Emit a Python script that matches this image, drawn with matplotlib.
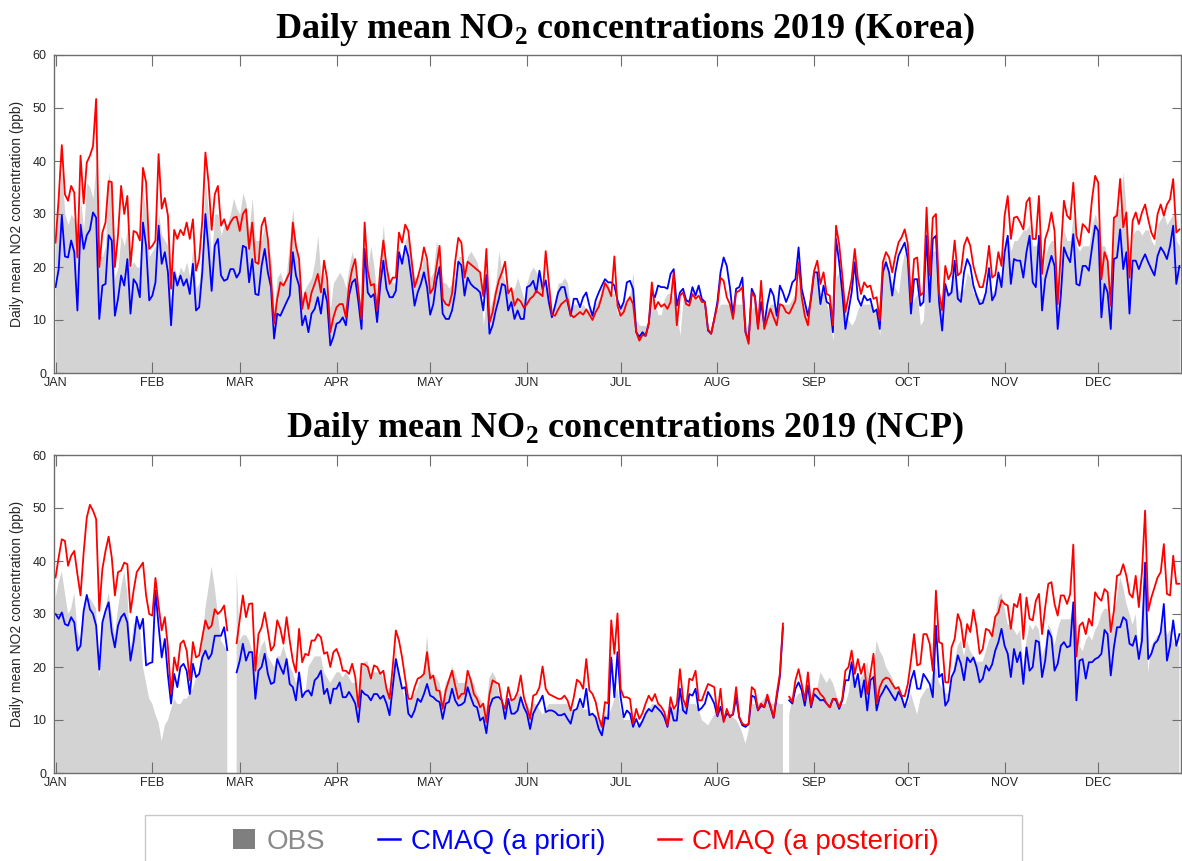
import numpy as np
import matplotlib
matplotlib.use("Agg")
import matplotlib.pyplot as plt
from matplotlib.patches import Patch, Rectangle
from matplotlib.lines import Line2D

nan = np.nan

month_labels = ["JAN", "FEB", "MAR", "APR", "MAY", "JUN", "JUL", "AUG", "SEP", "OCT", "NOV", "DEC"]
month_start_days = [0, 31, 59, 90, 120, 151, 181, 212, 243, 273, 304, 334]
legend_labels = ["OBS", "CMAQ (a priori)", "CMAQ (a posteriori)"]
titles = ["Korea", "NCP"]

korea_obs = [
    24, 33, 38, 30, 28, 30, 29, 20, 33, 27,
    36, 35, 33, 40, 22, 22, 24, 38, 34, 18,
    20, 26, 24, 27, 20, 21, 20, 20, 34, 30,
    22, 23, 24, 30, 26, 25, 24, 14, 20, 18,
    20, 19, 21, 18, 24, 16, 17, 24, 36, 30,
    22, 30, 30, 26, 28, 28, 30, 33, 31, 30,
    34, 32, 27, 33, 25, 25, 25, 28, 24, 22,
    12, 18, 19, 17, 19, 25, 31, 24, 20, 14,
    16, 17, 18, 21, 26, 18, 19, 15, 12, 17,
    18, 19, 18, 16, 20, 23, 20, 16, 12, 22,
    20, 24, 20, 14, 22, 28, 20, 18, 17, 17,
    24, 21, 25, 26, 22, 18, 18, 19, 22, 20,
    18, 19, 25, 22, 17, 17, 16, 17, 18, 22,
    22, 20, 22, 23, 22, 21, 18, 9, 14, 12,
    14, 17, 23, 19, 17, 15, 15, 16, 18, 16,
    14, 17, 19, 20, 19, 18, 17, 17, 16, 10,
    14, 17, 17, 18, 17, 12, 13, 13, 12, 13,
    12, 12, 11, 13, 14, 16, 17, 17, 15, 15,
    11, 13, 13, 14, 15, 19, 10, 9, 9, 9,
    10, 14, 13, 11, 11, 14, 15, 15, 14, 12,
    7, 14, 14, 14, 14, 14, 14, 14, 13, 8,
    8, 11, 12, 13, 13, 13, 13, 13, 13, 13,
    13, 10, 8, 12, 13, 12, 13, 10, 12, 13,
    13, 12, 13, 13, 13, 13, 14, 15, 17, 14,
    13, 11, 14, 19, 19, 15, 15, 13, 11, 6,
    18, 19, 16, 12, 10, 9, 10, 12, 13, 13,
    13, 13, 12, 12, 7, 21, 22, 18, 17, 16,
    15, 20, 23, 20, 12, 14, 15, 9, 10, 22,
    13, 23, 23, 13, 11, 16, 15, 17, 19, 16,
    15, 16, 19, 18, 15, 15, 14, 14, 15, 17,
    15, 16, 19, 18, 25, 26, 23, 25, 25, 26,
    27, 27, 28, 24, 24, 25, 18, 22, 24, 25,
    25, 13, 22, 27, 25, 25, 30, 24, 23, 24,
    24, 24, 28, 30, 28, 24, 24, 22, 13, 30,
    31, 31, 38, 30, 22, 26, 27, 27, 26, 27,
    27, 25, 24, 28, 29, 30, 28, 29, 30, 25, 24,
]

korea_prior = [
    16.2, 19.6, 29.7, 22, 21.8, 25, 22.8, 11.8, 28, 23.4,
    26, 27, 30.3, 29.3, 10.2, 16.5, 16.8, 26, 25, 10.8,
    14, 18.4, 16.5, 21.5, 11.2, 17.7, 16.8, 14.3, 28.4, 24,
    13.7, 14.6, 17.1, 27.8, 20.6, 22.8, 19, 9, 19, 16.5,
    18.4, 16.5, 17.7, 14.9, 20.6, 11.8, 12.4, 19, 30, 23.4,
    15.5, 24, 25.3, 18.4, 17.4, 17.7, 19.6, 19.6, 18, 19,
    24, 23.7, 17.1, 21.5, 14.9, 14.7, 20.2, 23.4, 19, 16.2,
    6.5, 11.2, 10.8, 12.1, 13.4, 14.6, 22.8, 18.4, 16.5, 9,
    10.8, 7.7, 11.2, 12.1, 14.3, 11.2, 15.9, 13.4, 5.2, 6.8,
    9.3, 9.6, 10.5, 9, 14.6, 17.1, 17.7, 13.4, 8.3, 23.4,
    15.2, 14.3, 14.9, 9.6, 16.5, 21.2, 15.9, 14.3, 14.3, 15.5,
    22.8, 20.6, 24, 22, 17.7, 12.7, 15.2, 16.8, 19, 16.2,
    11, 13, 17.5, 20, 11.2, 10.2, 10.2, 11.8, 15.2, 21,
    20.3, 14.6, 18, 16.8, 16.2, 15.8, 15.2, 11.8, 18.5, 7.4,
    9, 11.8, 14, 16.8, 16.5, 11.8, 13.4, 10.2, 11.8, 10.2,
    10.2, 16.2, 16.5, 17.4, 15.2, 19.3, 15.8, 17.5, 13.4, 10.5,
    12.7, 15.2, 16.2, 16.2, 13.4, 10.8, 14, 14, 12.4, 14.3,
    15.2, 12.7, 10.8, 13.7, 15.2, 16.5, 17.7, 17.1, 17.1, 16.5,
    13.7, 12.1, 13.4, 17.1, 17.4, 15.8, 7.7, 6.8, 7.7, 7,
    9.3, 15.2, 14.3, 16.5, 16.2, 16.2, 15.9, 18.7, 19.6, 12.7,
    15.2, 15.9, 13.7, 13.4, 16.2, 14.6, 16.5, 14, 13.4, 8,
    7.4, 10.2, 13.4, 19, 21.8, 20.2, 16.2, 10.8, 15.9, 16.2,
    18, 7.7, 6.1, 15.9, 14.6, 8.7, 13.4, 9, 13, 15.9,
    14.6, 10.8, 16.5, 15.2, 13.4, 14.9, 17.1, 17.7, 23.7, 15.9,
    13.4, 10.8, 14, 19, 19, 13, 16.5, 13.4, 13, 7.7,
    25.3, 20.9, 15.2, 8.3, 11.8, 15.2, 20.9, 14, 12.7, 14.6,
    13.7, 14, 11.5, 12, 8.3, 19, 20.9, 19, 14.6, 19,
    22.1, 23.4, 24.6, 21.5, 11.2, 17.7, 17.7, 12.7, 13.4, 25.9,
    13.4, 25.3, 25.9, 13.4, 8, 16.8, 14.6, 15.2, 21.2, 14,
    13.4, 19, 21.5, 20.2, 16.5, 14.6, 13, 13.2, 15.2, 19.8,
    13.7, 14.8, 19, 16.2, 22.8, 25.9, 16.8, 21.5, 21.2, 21.2,
    18, 22.8, 25.9, 17.1, 16.2, 25.9, 11.8, 17.7, 20, 22.1,
    20.2, 8.3, 14.6, 23.7, 22.1, 20.9, 26.2, 16.8, 16.5, 20.2,
    20.2, 19.3, 23.7, 27.8, 26.8, 10.5, 16.8, 15.2, 8.3, 21.5,
    21.8, 27.1, 19.6, 22.8, 11.2, 21.2, 21.2, 19.6, 21.2, 22.4,
    20.9, 19.6, 18.4, 22.1, 23.7, 22.8, 21.5, 24, 27.8, 16.8, 20.2,
]

korea_post = [
    24.6, 33, 43, 33.7, 32.5, 35.3, 34, 21.8, 41, 32,
    39.7, 41, 42.8, 51.7, 20, 26.5, 28.4, 36.2, 36, 20,
    26, 35.3, 30, 33.4, 20.2, 26.8, 26.5, 25, 38.7, 36,
    23.4, 24, 25, 41.3, 31, 33, 29.7, 15.9, 27, 25.3,
    27, 26, 28.4, 25.3, 29, 19.3, 21.5, 28.7, 41.6, 36,
    27, 33.7, 35.3, 27.8, 29, 27, 28.4, 29.3, 29.5, 26.8,
    30, 30.9, 23.4, 28.4, 20.9, 20.6, 27.8, 29.3, 25.3, 17.7,
    9.3, 14, 17.1, 16.5, 17.7, 19, 28.4, 24, 21.5, 12.1,
    15.2, 12.1, 15.2, 16.8, 18.7, 15.2, 21.2, 17.7, 7.7, 10.5,
    12.4, 13, 13, 10.5, 16.5, 19.6, 21.5, 15.5, 10.2, 28.4,
    19.3, 16.5, 16.8, 11.8, 19.6, 25, 20.2, 16.8, 18, 18,
    26.5, 24.6, 28, 26.8, 21.5, 16.2, 18, 20.2, 23.7, 21.5,
    15, 16, 20, 24, 14, 13, 12.7, 15, 21, 25.5,
    24.6, 18, 21, 20.5, 20, 19.5, 19, 14.5, 23.4, 9.5,
    11.5, 15, 17.5, 19, 21, 15, 16, 12.7, 14, 13.5,
    12.3, 13, 14, 14.5, 15.5, 15, 14.5, 23, 17, 11,
    10.8, 12, 13, 13.5, 14, 11, 10.5, 11, 11.5, 11,
    12, 11, 10, 11.5, 12.5, 14.5, 17, 16, 14.5, 22,
    12.7, 10.8, 11.5, 13.4, 14.3, 13, 7.7, 6.1, 7.2, 7,
    9.3, 17.1, 12.1, 13.4, 12.5, 13, 12.1, 13.4, 19, 9,
    14.6, 15.2, 13, 12.7, 14.9, 14, 14.6, 13.4, 13.4, 8.3,
    7.4, 10.2, 12.7, 18, 17.4, 14.3, 13, 10.2, 15.2, 15.5,
    16.2, 7.7, 5.5, 15.2, 14.3, 8.3, 17.4, 8.3, 10.2, 12.1,
    10.5, 9, 13, 12.7, 11.5, 11.2, 12.4, 13.7, 20.9, 14.3,
    10.8, 9, 14.6, 19.3, 21.2, 16.8, 19, 14.9, 14.6, 9,
    27.8, 24.3, 18.4, 11.5, 14.6, 17.7, 23.4, 17.7, 14.9, 17.1,
    16.2, 16.5, 14, 14.3, 9.9, 20.9, 22.8, 21.8, 19, 22.1,
    24.6, 25.6, 27.1, 24.3, 13.4, 21.5, 21.8, 14.6, 15.2, 31.2,
    18.4, 29.3, 30, 15.2, 11.8, 20.2, 17.7, 19, 25, 18.4,
    19, 24, 25.6, 24, 20.2, 18, 16.2, 16.2, 19, 24,
    18, 18.5, 22.8, 20.2, 29.7, 33.4, 25.3, 29.3, 29.5, 28.4,
    27.1, 32.2, 33.1, 25.3, 25.3, 33.4, 18.7, 25.3, 27.1, 30.3,
    26.8, 13, 22.8, 32.5, 29.7, 29, 35.9, 25.9, 24, 28.1,
    27.5, 26.5, 32.8, 37.2, 35.9, 17.7, 22.8, 21.2, 12.7, 29.3,
    29.7, 36.6, 27.5, 30.3, 18, 28.7, 30.3, 28.1, 30.3, 31.8,
    29, 26.5, 25.3, 30, 31.8, 29.7, 31.8, 32.8, 36.6, 26.5, 27.1,
]

ncp_obs = [
    33, 36, 38, 34, 30, 31, 34, 27, 25, 31,
    33, 33, 32, 31, 18, 28, 31, 34, 30, 26,
    31, 35, 38, 34, 23, 28, 29, 28, 20, 17,
    14, 13, 11, 9.5, 6, 9, 10, 12, 14, 13,
    13, 14, 14, 15, 16, 18, 19, 25, 31, 35,
    39, 35, 30, 25, 24, 23, nan, nan, 38, 25,
    26, 26, 25, 23, 21, 22, 24, 25, 22, 21,
    20, 22, 22, 24, 22, 20, 19, 17, 18, 14,
    15, 20, 21, 22, 22, 22, 19, 18, 17, 18,
    19, 19, 18, 19, 18, 17, 17, 13, 20, 21,
    21, 18, 19, 19, 19, 18, 16, 16, 18, 23,
    19, 16, 14, 14, 14, 15, 16, 18, 19, 26,
    19, 18, 18, 17, 14, 17, 18, 20, 19, 17,
    17, 17, 18, 18, 17, 15, 14, 13, 12, 18,
    19, 18, 15, 13, 10, 14, 14, 14, 15, 15,
    13, 13, 12, 13, 13, 12, 11, 12, 13, 13,
    13, 13, 13, 13, 13, 12, 12, 12, 13, 12,
    12, 12, 11, 11, 10, 10, 11, 11, 12, 14,
    16, 12, 10, 10, 10, 9, 9, 9.5, 10, 12,
    12, 13, 13, 13, 12, 11, 11, 12, 12, 12,
    12, 13, 13, 13, 13, 13, 12, 10, 9.5, 9,
    10, 11, 13, 12, 11, 11, 10.5, 10.5, 10, 9,
    7.5, 5.5, 8, 13, 13, 13, 13.5, 14, 15, 13,
    13, 13.5, 13, 13, nan, 11, 14, 14, 15, 15,
    15, 16, 14, 15, 16, 19, 18, 17, 18, 17,
    15, 13, 13, 13, 15, 19, 18, 17, 18, 19,
    21, 17, 19, 25, 23, 22, 20, 19, 18, 16,
    16, 15, 13, 13, 15, 13, 11, 14, 15, 16,
    16, 19, 20, 17, 16, 15, 15, 18, 21, 24,
    25, 22, 25, 23, 22, 21, 21, 21, 23, 25,
    26, 29, 33, 34, 31, 28, 28, 27, 26, 27,
    20, 25, 28, 27, 28, 27, 22, 24, 28, 27,
    24, 27, 29, 29, 29, 29, 32, 22, 24, 23,
    25, 26, 25, 27, 28, 30, 31, 31, 26, 30,
    33, 37, 35, 32, 30, 28, 30, 22, 31, 36,
    19, 24, 25, 26, 26, 29, 26, 27, 25, 24, 24,
]

ncp_prior = [
    30, 29.1, 30.3, 28.1, 27.8, 29.4, 28.4, 23.1, 24, 30.6,
    33.6, 30.9, 30, 27.8, 19.5, 28.4, 30.6, 32.2, 26.6, 23.7,
    27.8, 29.4, 30.1, 28.4, 21.2, 24.7, 29.5, 27.2, 29.1, 20.3,
    20.7, 20.9, 34.4, 27.8, 21.8, 25.3, 18.4, 13.1, 18.7, 16.2,
    20, 20.6, 19.3, 14.9, 20.6, 18.1, 18.7, 21.8, 23.1, 21.5,
    22.5, 25.9, 25.9, 25.9, 27.5, 23.2, nan, nan, 19, 21.2,
    24.4, 21.2, 22.8, 22.8, 14, 19.3, 20, 22.5, 18.7, 16.8,
    17.1, 21.5, 20, 18.7, 21.5, 16.8, 16.2, 13.7, 19, 14.3,
    15.3, 15.6, 14.6, 17.5, 18.1, 19.3, 14.9, 15.9, 13.1, 15.9,
    15.9, 17.1, 14.3, 14.3, 15.3, 14.3, 13.1, 9.6, 15.6, 14.9,
    14.6, 13.7, 14.9, 14.9, 14, 14.6, 13.1, 10.9, 16.2, 21.5,
    18.7, 15.9, 16.2, 11.2, 10.5, 11.8, 14, 13.4, 14.9, 16.8,
    14.6, 14.3, 13.7, 13.4, 10.2, 13.1, 13.4, 15.9, 13.7, 12.7,
    12.9, 13.4, 16.2, 14.3, 12.7, 12.4, 9.9, 10.5, 7.5, 12.4,
    14, 14.3, 14.3, 13.7, 10.2, 14, 11.2, 11.2, 11.8, 14.3,
    12.4, 11.2, 8.3, 11.2, 12.4, 13.4, 14.6, 11.5, 11.8, 11.8,
    11.5, 10.9, 10.9, 11.2, 10.2, 9.3, 11.8, 12.1, 14, 12.4,
    15.9, 10.9, 11.2, 10.5, 8.3, 7.1, 10.5, 10.2, 21.8, 14.3,
    22.8, 14.3, 10.5, 11.8, 11.2, 8.7, 10.2, 8.7, 9.8, 11.2,
    12.1, 11.6, 12.7, 12.1, 11.5, 10.5, 8.7, 12.4, 9.9, 9.9,
    15.9, 11.8, 11.2, 14.9, 14.6, 15.9, 11.8, 12.3, 13.1, 15.3,
    14.3, 13.1, 10.7, 12.5, 9.9, 11.2, 10.8, 11, 14.3, 10.5,
    9, 8.7, 9.2, 14.6, 14.3, 11.8, 12.7, 12.4, 14.3, 12.4,
    10.4, 14.3, 18.1, 27.5, nan, 13.7, 13.1, 15.9, 17.1, 15.6,
    12.7, 16.5, 12.4, 14.9, 14.3, 13.7, 13.8, 13.1, 12.4, 14,
    13.7, 12.1, 13.7, 17.5, 17.5, 20.9, 16.2, 18.7, 14.3, 17.5,
    11.8, 17.5, 18.1, 11.8, 14.3, 15.3, 16.5, 15.6, 14.6, 13.7,
    15.3, 14.3, 12.4, 14.3, 17.5, 19.3, 15.9, 15.9, 18.7, 17.8,
    16.8, 14.3, 27.8, 18.1, 18.7, 12.7, 13.7, 18.1, 19.3, 22.2,
    20.6, 17.5, 21.8, 20.9, 21.8, 20, 17.1, 17.8, 20.3, 19.3,
    20.5, 23.1, 24.7, 27.2, 24, 22.5, 18.1, 23.4, 20.9, 22.8,
    16.8, 23.7, 19.3, 20, 25, 24.7, 18.1, 21.2, 26.9, 25.6,
    19.3, 20.6, 24, 24.7, 23.7, 24, 32.2, 13.7, 21.2, 21.5,
    17.8, 20.9, 20.9, 21.5, 21.8, 22.5, 27, 26.2, 18.4, 23.7,
    27.5, 27.5, 29.4, 28.8, 24.4, 24, 25.9, 21.5, 25, 39.7,
    21.5, 22.5, 24.4, 25, 26.6, 31.9, 21.2, 24, 28.8, 24, 26.2,
]

ncp_post = [
    36.9, 40.7, 44.1, 43.8, 39.1, 41, 41.9, 37.5, 33.5, 41.6,
    48.2, 50.6, 49.5, 47.9, 30.6, 38.5, 41.9, 44.6, 40.7, 33.5,
    37.9, 38.2, 39.7, 39.4, 30.3, 34.4, 37.9, 38.8, 39.7, 33.5,
    30, 29.7, 36.8, 31.6, 26.9, 29.4, 23.7, 14.9, 21.8, 19.3,
    24.4, 25, 23.1, 17.5, 24.7, 21.8, 22.2, 25.6, 28.8, 27.2,
    27.8, 30.9, 30, 30.6, 31.6, 26.9, nan, nan, 24.5, 29,
    33.5, 29.4, 31.9, 32, 19.3, 26.2, 27.5, 30.3, 26.9, 23.1,
    24, 28.8, 27.2, 24.4, 29.4, 25, 21.2, 19, 27.2, 20.9,
    22.5, 22.2, 25, 25, 26.2, 25.6, 22.5, 22.8, 20, 22.8,
    23.4, 21.8, 19.3, 19.3, 18.7, 20.6, 18.1, 12.4, 20.6, 20.5,
    20, 17.8, 20.3, 20, 18.7, 19.3, 15.9, 14, 20, 26.9,
    25, 21.8, 17.8, 14, 14, 16.2, 17.8, 18.1, 18.7, 22.8,
    17.8, 18.4, 15.6, 15.5, 12.1, 15.6, 17.5, 19.3, 16.5, 14,
    14.9, 15, 19.3, 17.5, 14.9, 14, 12.4, 13.1, 9.6, 14.9,
    17.5, 17.1, 16.8, 13.4, 12.1, 16.2, 13.7, 14, 15.3, 18.4,
    14.3, 12.4, 10.2, 14.6, 14.9, 16.2, 20.1, 15.9, 14.9, 14.6,
    14.3, 14, 14, 14.6, 13.7, 11.8, 14.3, 17.6, 17.1, 15.9,
    21.5, 15.6, 14.9, 13.4, 10.5, 8.7, 13.4, 13.1, 28.8, 22.5,
    30.1, 15.9, 14.3, 14.3, 14, 9.3, 12.1, 10.2, 11.3, 13.1,
    14.6, 13.6, 14.9, 13.1, 12.5, 11.5, 9, 14.3, 12.1, 13,
    19.6, 14, 12.4, 17.8, 17.5, 19.3, 13.7, 13.7, 15.3, 16.8,
    16.5, 16.2, 10.9, 15.9, 9.6, 12.1, 10.5, 11.2, 16.2, 10.5,
    9.3, 9, 9.3, 16.2, 15.6, 11.9, 13.1, 12.4, 14.8, 12.7,
    10.5, 14.9, 18.7, 28.2, nan, 14.4, 13.4, 17.5, 19.6, 16.8,
    13.7, 19, 12.7, 15.9, 15.9, 14.9, 14.3, 13.1, 12.4, 14,
    14, 12.4, 14, 19.3, 20, 23.1, 18.7, 21.5, 18.7, 20.6,
    14.9, 18.7, 22.5, 13.1, 16.2, 17.5, 18, 17.8, 16.8, 15.9,
    16.2, 14.6, 14.5, 16.8, 21.2, 26.2, 20.3, 20.6, 26.2, 26.2,
    24.4, 19.3, 34.4, 24.7, 24.4, 17.1, 17.1, 23.7, 25.3, 30,
    28.4, 23.7, 28.1, 26.6, 30.8, 27.5, 22.5, 23.4, 27.2, 26.9,
    25.8, 29.5, 30.3, 32.6, 31.9, 31.6, 27.2, 31.9, 31.3, 33.8,
    25.3, 33.1, 29.1, 28.8, 32.5, 33.8, 26.2, 31.3, 35.7, 36,
    31.9, 29.7, 33.5, 33.5, 31.9, 33.8, 43.1, 22, 27.8, 28.4,
    26.2, 29.1, 27.8, 34.1, 33.1, 32.5, 34.7, 34.1, 26.6, 30.6,
    37.2, 37.5, 39.4, 37.2, 33.8, 33.1, 37.2, 31.3, 38, 49.5,
    30.6, 33.1, 35, 36.9, 37.9, 43.2, 33.8, 33.5, 41, 35.7, 35.7,
]

plt.rcParams['mathtext.fontset'] = 'custom'
plt.rcParams['mathtext.rm'] = 'Liberation Serif'
plt.rcParams['mathtext.bf'] = 'Liberation Serif:bold'
plt.rcParams['font.family'] = ['Liberation Sans', 'DejaVu Sans']

W, H = 1182, 861
fig = plt.figure(figsize=(W / 100, H / 100), dpi=100)

OBS_FILL = '#d3d3d3'
SPINE = '#6e6e6e'
TXT = '#262626'

panels = [
    (korea_obs, korea_prior, korea_post, 488, 0.9559),
    (ncp_obs, ncp_prior, ncp_post, 88, 0.4925),
]

for (obs, prior, post, bottom_px, title_y), name in zip(panels, titles):
    ax = fig.add_axes([54 / W, bottom_px / H, 1127 / W, 318 / H])
    obs_a = np.array(obs, dtype=float)
    pr_a = np.array(prior, dtype=float)
    po_a = np.array(post, dtype=float)
    ax.fill_between(np.arange(len(obs_a)), 0, obs_a, color=OBS_FILL, lw=0, zorder=1)
    ax.plot(np.arange(len(pr_a)), pr_a, color='#0000ff', lw=1.3, zorder=3)
    ax.plot(np.arange(len(po_a)), po_a, color='#ff0000', lw=1.3, zorder=4)
    ax.set_xlim(-0.5, 360.5)
    ax.set_ylim(0, 60)
    ax.set_xticks(month_start_days)
    ax.set_xticklabels(month_labels)
    ax.set_yticks(np.arange(0, 61, 10))
    ax.tick_params(axis='x', direction='in', length=8, width=0.8, color=SPINE,
                   top=True, labelsize=9, labelcolor=TXT, pad=3.2)
    ax.tick_params(axis='y', direction='in', length=6.5, width=0.8, color=SPINE,
                   right=True, labelsize=9, labelcolor=TXT, pad=5.5)
    for s in ax.spines.values():
        s.set_color(SPINE)
        s.set_linewidth(1.0)
        s.set_zorder(5)
    ax.set_ylabel('Daily mean NO2 concentration (ppb)', fontsize=10, color=TXT)
    ax.yaxis.set_label_coords(-0.0265, 0.5)
    fig.text(625 / W, title_y,
             r'Daily mean NO$_{\mathbf{2}}$ concentrations 2019 (' + name + ')',
             ha='center', va='baseline', fontsize=26, fontweight='bold',
             family='Liberation Serif', color='black')

# legend frame (extends below the figure edge as in the reference)
frame = Rectangle((145 / W, -0.06), (1022 - 145) / W, 0.06 + (861 - 815) / H,
                  transform=fig.transFigure, facecolor='white', edgecolor='#c8c8c8',
                  lw=1.0, zorder=1)
fig.patches.append(frame)

handles = [Patch(facecolor='#7f7f7f', edgecolor='none'),
           Line2D([], [], color='#0000ff', lw=1.8),
           Line2D([], [], color='#ff0000', lw=1.8)]
leg = fig.legend(handles, legend_labels, loc='center left',
                 bbox_to_anchor=(233 / W, 1 - 842 / H), ncol=3, frameon=False,
                 fontsize=20, handlelength=0.8, handleheight=0.75,
                 handletextpad=0.4, columnspacing=1.9, borderpad=0, borderaxespad=0)
for t, c in zip(leg.get_texts(), ['#8a8a8a', '#0000ff', '#ff0000']):
    t.set_color(c)

fig.savefig('out.png', dpi=100)
